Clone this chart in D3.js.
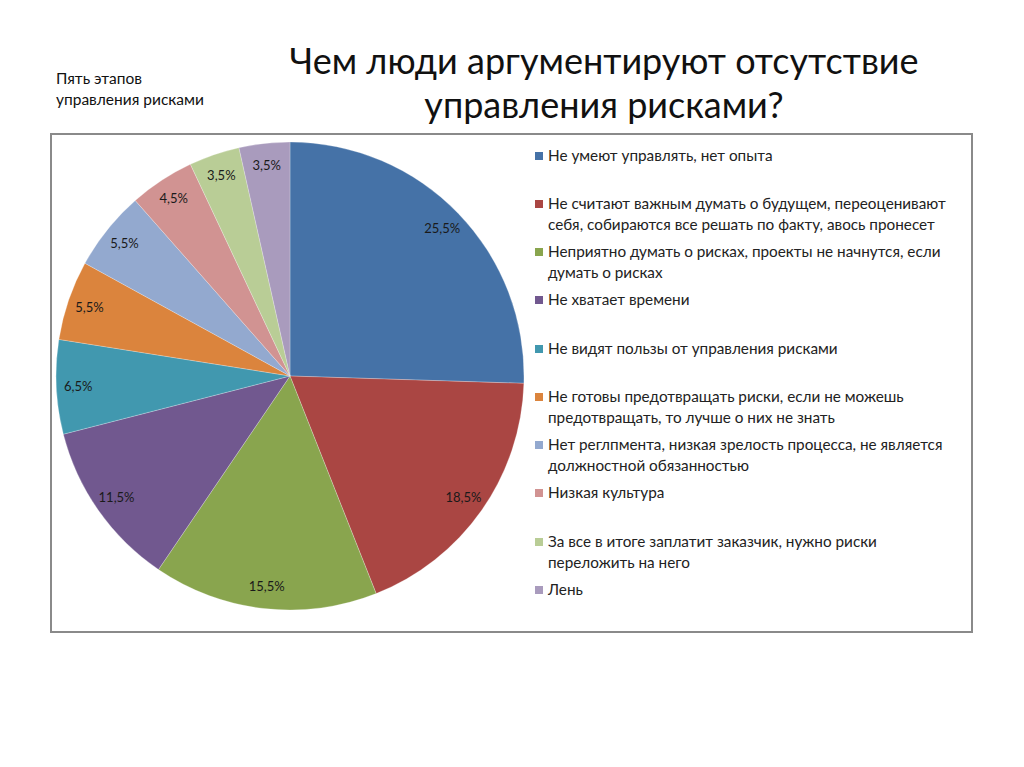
<!DOCTYPE html>
<html><head><meta charset="utf-8">
<script src="https://cdn.jsdelivr.net/npm/d3@7/dist/d3.min.js"></script>
<style>body{margin:0;background:#fff;}svg{display:block;}</style>
</head><body>
<svg id="c" width="1024" height="767"></svg>
<script>
const categories = [
  ["Не умеют управлять, нет опыта"],
  ["Не считают важным думать о будущем, переоценивают","себя, собираются все решать по факту, авось пронесет"],
  ["Неприятно думать о рисках, проекты не начнутся, если","думать о рисках"],
  ["Не хватает времени"],
  ["Не видят пользы от управления рисками"],
  ["Не готовы предотвращать риски, если не можешь","предотвращать, то лучше о них не знать"],
  ["Нет реглпмента, низкая зрелость процесса, не является","должностной обязанностью"],
  ["Низкая культура"],
  ["За все в итоге заплатит заказчик, нужно риски","переложить на него"],
  ["Лень"]
];
const values = [25.5, 18.5, 15.5, 11.5, 6.5, 5.5, 5.5, 4.5, 3.5, 3.5];
const valueLabels = ["25,5%","18,5%","15,5%","11,5%","6,5%","5,5%","5,5%","4,5%","3,5%","3,5%"];
const colors = ["#4572A7","#AA4643","#89A54E","#71588F","#4198AF","#DB843D","#93A9CF","#D19392","#B9CD96","#A99BBD"];
const titleLines = ["Чем люди аргументируют отсутствие","управления рисками?"];
const subtitleLines = ["Пять этапов","управления рисками"];

const svg = d3.select("#c");
const font = "Lato, 'Open Sans', sans-serif";

// titles
svg.append("g").selectAll("text").data(titleLines).join("text")
  .attr("x", 604).attr("y", (d,i)=>74 + i*44)
  .attr("text-anchor","middle").attr("font-family",font)
  .attr("font-size", 36).attr("fill","#111").text(d=>d);
svg.append("g").selectAll("text").data(subtitleLines).join("text")
  .attr("x", 56).attr("y", (d,i)=>84 + i*21)
  .attr("font-family",font).attr("font-size",15.5).attr("fill","#111").text(d=>d);

// frame
svg.append("rect").attr("x",51).attr("y",134).attr("width",921).attr("height",498)
  .attr("fill","none").attr("stroke","#8a8a8a").attr("stroke-width",2);

// pie
const cx = 290, cy = 376, R = 234;
const pie = d3.pie().sort(null).value(d=>d);
const arcs = pie(values);
const arc = d3.arc().innerRadius(0).outerRadius(R);
const labelArc = d3.arc().innerRadius(212).outerRadius(212);
const g = svg.append("g").attr("transform",`translate(${cx},${cy})`);
g.selectAll("path").data(arcs).join("path")
  .attr("d",arc).attr("fill",(d,i)=>colors[i])
  .attr("stroke","#ffffff").attr("stroke-opacity",0.35).attr("stroke-width",0.7);
g.selectAll("text").data(arcs).join("text")
  .attr("transform",d=>`translate(${labelArc.centroid(d)})`)
  .attr("text-anchor","middle").attr("dy","0.35em")
  .attr("font-family",font).attr("font-size",13).attr("fill","#1a1a1a")
  .text((d,i)=>valueLabels[i]);

// legend
const legendY = [156, 204, 252, 300, 349, 397, 445, 493, 542, 590];
const lg = svg.append("g");
const items = lg.selectAll("g").data(categories).join("g")
  .attr("transform",(d,i)=>`translate(535,${legendY[i]})`);
items.append("rect").attr("x",0).attr("y",-4).attr("width",8).attr("height",8)
  .attr("fill",(d,i)=>colors[i]);
items.each(function(lines){
  d3.select(this).selectAll("text").data(lines).join("text")
    .attr("x",13).attr("y",(d,j)=>j*21).attr("dy","0.35em")
    .attr("font-family",font).attr("font-size",15.3).attr("fill","#222").text(d=>d);
});
</script>
</body></html>
